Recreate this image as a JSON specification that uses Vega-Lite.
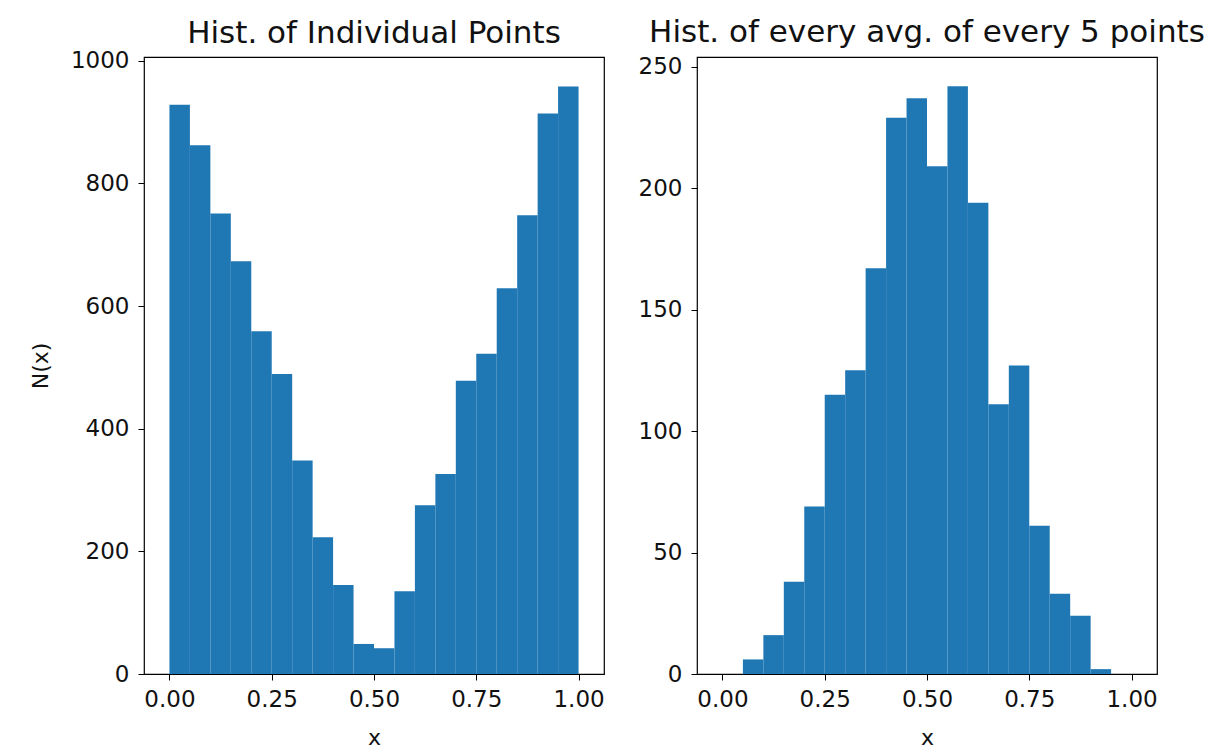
{
  "$schema": "https://vega.github.io/schema/vega-lite/v6.json",
  "background": "white",
  "padding": {"left": 28, "top": 16, "right": 10, "bottom": 5},
  "config": {
    "font": "DejaVu Sans",
    "view": {"stroke": "black", "strokeWidth": 1.2},
    "axis": {
      "grid": false,
      "domain": false,
      "ticks": true,
      "tickColor": "black",
      "tickSize": 6,
      "tickWidth": 1,
      "labelFont": "DejaVu Sans",
      "labelFontSize": 23,
      "labelColor": "#111",
      "labelPadding": 8,
      "titleFont": "DejaVu Sans",
      "titleFontSize": 22,
      "titleFontWeight": "normal",
      "titleColor": "#111"
    },
    "title": {"font": "DejaVu Sans", "fontSize": 31, "fontWeight": "normal", "color": "#111", "baseline": "alphabetic"},
    "bar": {"color": "#1f77b4"}
  },
  "bounds": "flush",
  "spacing": 93,
  "hconcat": [
    {
      "title": {"text": "Hist. of Individual Points", "offset": 0},
      "width": 460,
      "height": 617,
      "data": {"values": [
        {"lo": 0.00, "hi": 0.05, "n": 928},
        {"lo": 0.05, "hi": 0.10, "n": 862},
        {"lo": 0.10, "hi": 0.15, "n": 751},
        {"lo": 0.15, "hi": 0.20, "n": 673},
        {"lo": 0.20, "hi": 0.25, "n": 559},
        {"lo": 0.25, "hi": 0.30, "n": 489},
        {"lo": 0.30, "hi": 0.35, "n": 348},
        {"lo": 0.35, "hi": 0.40, "n": 223},
        {"lo": 0.40, "hi": 0.45, "n": 145},
        {"lo": 0.45, "hi": 0.50, "n": 49},
        {"lo": 0.50, "hi": 0.55, "n": 42},
        {"lo": 0.55, "hi": 0.60, "n": 135},
        {"lo": 0.60, "hi": 0.65, "n": 275},
        {"lo": 0.65, "hi": 0.70, "n": 326},
        {"lo": 0.70, "hi": 0.75, "n": 478},
        {"lo": 0.75, "hi": 0.80, "n": 522},
        {"lo": 0.80, "hi": 0.85, "n": 629},
        {"lo": 0.85, "hi": 0.90, "n": 748},
        {"lo": 0.90, "hi": 0.95, "n": 914},
        {"lo": 0.95, "hi": 1.00, "n": 958}
      ]},
      "mark": {"type": "bar", "orient": "vertical"},
      "encoding": {
        "x": {
          "field": "lo", "type": "quantitative", "title": "x",
          "scale": {"domain": [-0.05, 1.05], "nice": false, "zero": false},
          "axis": {"values": [0, 0.25, 0.5, 0.75, 1], "format": ".2f", "titlePadding": 16}
        },
        "x2": {"field": "hi"},
        "y": {
          "field": "n", "type": "quantitative", "title": "N(x)",
          "scale": {"domain": [0, 1006], "nice": false},
          "axis": {"values": [0, 200, 400, 600, 800, 1000], "format": "d", "labelPadding": 9, "titlePadding": 18}
        },
        "y2": {"datum": 0}
      }
    },
    {
      "title": {"text": "Hist. of every avg. of every 5 points", "offset": 7},
      "width": 460,
      "height": 617,
      "data": {"values": [
        {"lo": 0.00, "hi": 0.05, "n": 0},
        {"lo": 0.05, "hi": 0.10, "n": 6},
        {"lo": 0.10, "hi": 0.15, "n": 16},
        {"lo": 0.15, "hi": 0.20, "n": 38},
        {"lo": 0.20, "hi": 0.25, "n": 69},
        {"lo": 0.25, "hi": 0.30, "n": 115},
        {"lo": 0.30, "hi": 0.35, "n": 125},
        {"lo": 0.35, "hi": 0.40, "n": 167},
        {"lo": 0.40, "hi": 0.45, "n": 229},
        {"lo": 0.45, "hi": 0.50, "n": 237},
        {"lo": 0.50, "hi": 0.55, "n": 209},
        {"lo": 0.55, "hi": 0.60, "n": 242},
        {"lo": 0.60, "hi": 0.65, "n": 194},
        {"lo": 0.65, "hi": 0.70, "n": 111},
        {"lo": 0.70, "hi": 0.75, "n": 127},
        {"lo": 0.75, "hi": 0.80, "n": 61},
        {"lo": 0.80, "hi": 0.85, "n": 33},
        {"lo": 0.85, "hi": 0.90, "n": 24},
        {"lo": 0.90, "hi": 0.95, "n": 2},
        {"lo": 0.95, "hi": 1.00, "n": 0}
      ]},
      "mark": {"type": "bar", "orient": "vertical"},
      "encoding": {
        "x": {
          "field": "lo", "type": "quantitative", "title": "x",
          "scale": {"domain": [-0.05, 1.05], "nice": false, "zero": false},
          "axis": {"values": [0, 0.25, 0.5, 0.75, 1], "format": ".2f", "titlePadding": 16}
        },
        "x2": {"field": "hi"},
        "y": {
          "field": "n", "type": "quantitative", "title": null,
          "scale": {"domain": [0, 254], "nice": false},
          "axis": {"values": [0, 50, 100, 150, 200, 250], "labelPadding": 9}
        },
        "y2": {"datum": 0}
      }
    }
  ]
}
